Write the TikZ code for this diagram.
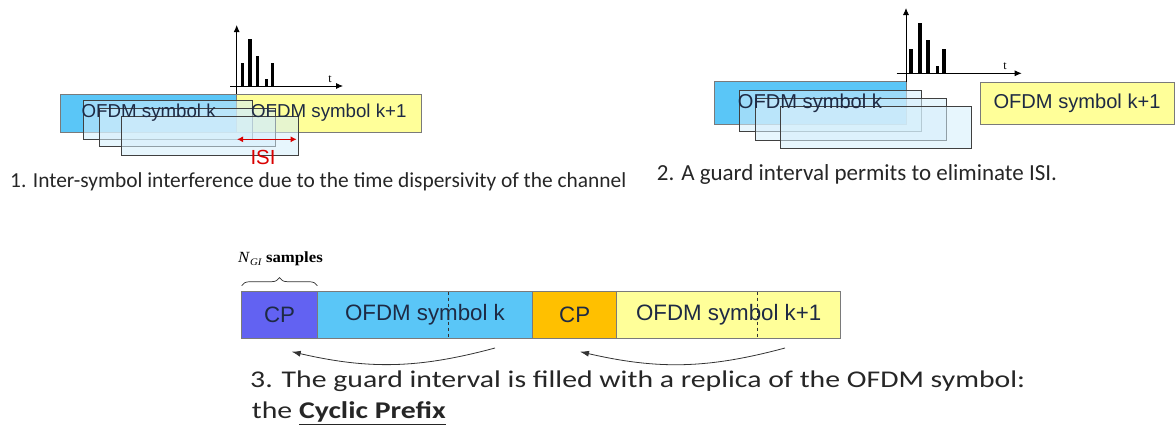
\documentclass[tikz,border=0pt]{standalone}
\usepackage{fontspec}
\setmainfont{Carlito}
\newfontfamily\arialf{Liberation Sans}
\newfontfamily\timesf{Liberation Serif}
\usepackage{tikz}
\usetikzlibrary{arrows.meta,positioning,calc,decorations.pathreplacing}
\definecolor{symblue}{HTML}{5AC6F7}
\definecolor{symyellow}{HTML}{FFFF99}
\definecolor{shadefill}{HTML}{D4EEFB}
\definecolor{cppurple}{HTML}{6262F2}
\definecolor{cporange}{HTML}{FFC000}
\definecolor{edgegray}{HTML}{7A7A7A}
\definecolor{symtext}{HTML}{1E2A44}
\tikzset{
 symbox/.style={draw=edgegray,line width=0.9pt,inner sep=0pt,outer sep=0pt,anchor=north west},
 bluesym/.style={symbox,fill=symblue},
 yellowsym/.style={symbox,fill=symyellow},
 symlabel/.style={inner sep=0pt,text=symtext,font=\arialf\fontsize{18.7}{20}\selectfont},
 echobox/.style={draw=black!75,line width=0.9pt,fill=shadefill,fill opacity=0.55,
   inner sep=0pt,outer sep=0pt,anchor=north west},
 barbox/.style={draw=edgegray,line width=0.9pt,inner sep=0pt,outer sep=0pt,minimum height=46.6pt,
   text=symtext,font=\arialf\fontsize{22.3}{24}\selectfont},
 caption/.style={anchor=west,inner sep=0pt,text=black!85,font=\fontsize{21.4}{24}\selectfont},
 axis/.style={-{Latex[length=7pt,width=6pt]},line width=0.8pt},
 tap/.style={fill=black,draw=none},
 replica/.style={-{Latex[length=9pt,width=6pt]},line width=0.8pt,draw=black!80},
 isi/.style={{Latex[length=6pt,width=6pt]}-{Latex[length=6pt,width=6pt]},line width=1.6pt,draw=red!85!black}
}
\begin{document}
\begin{tikzpicture}[x=1pt,y=-1pt]
 \useasboundingbox (0,0) rectangle (1175,434);
 % 1. inter-symbol interference
 \node[bluesym,minimum width=176pt,minimum height=38pt] (symA) at (60.7,94) {};
 \node[yellowsym,minimum width=184.3pt,minimum height=38pt] (nextA) at (236.7,94) {};
 \node[echobox,minimum width=169pt,minimum height=38.3pt] (echoA1) at (83,100.7) {};
 \node[echobox,minimum width=176pt,minimum height=38.7pt] (echoA2) at (99,108) {};
 \node[echobox,minimum width=176.3pt,minimum height=38.3pt] (echoA3) at (121.7,116.7) {};
 \node[symlabel] (symAtxt) at (symA.center) {OFDM symbol k};
 \node[symlabel] (nextAtxt) at (nextA.center) {OFDM symbol k+1};
 \coordinate (originA) at (236.7,86);
 \draw[line width=0.8pt] (symA.north east) -- (originA);
 \draw[axis] (originA) -- (236.7,25);
 \draw[axis] (230,86) -- (343,86);
 \node[font=\timesf\fontsize{12}{12}\selectfont,inner sep=0pt] (tA) at (330,79) {t};
 \foreach \px/\top in {242.7/63,250/39,257.7/56,266.7/79,272.7/63}
   \fill[tap] (\px-1.7,86) rectangle (\px+1.7,\top);
 \coordinate (isiL) at (237,139.3);
 \coordinate (isiR) at (296.7,139.3);
 \draw[isi] (isiL) -- (isiR);
 \node[text=red!85!black,font=\arialf\fontsize{20.4}{22}\selectfont,inner sep=0pt] (isiA) at (263,157) {ISI};
 \node[caption] (capA) at (10,182) {1. Inter-symbol interference due to the time dispersivity of the channel};

 % 2. guard interval
 \node[bluesym,minimum width=192pt,minimum height=42.3pt] (symB) at (714,81.7) {};
 \node[echobox,minimum width=182pt,minimum height=41.7pt] (echoB1) at (739,90) {};
 \node[echobox,minimum width=191pt,minimum height=42.7pt] (echoB2) at (755.7,98) {};
 \node[echobox,minimum width=191.7pt,minimum height=41.6pt] (echoB3) at (780,106.7) {};
 \node[symlabel,font=\arialf\fontsize{20.1}{22}\selectfont] (symBtxt) at (symB.center) {OFDM symbol k};
 \node[yellowsym,minimum width=194pt,minimum height=42pt,text=symtext,font=\arialf\fontsize{20.1}{22}\selectfont] (nextB) at (980,82) {OFDM symbol k+1};
 \coordinate (originB) at (906,73.3);
 \draw[line width=0.8pt] (symB.north east) -- (originB);
 \draw[axis] (originB) -- (906,8);
 \draw[axis] (896.7,73.3) -- (1021.7,73.3);
 \node[font=\timesf\fontsize{12}{12}\selectfont,inner sep=0pt] (tB) at (1005,66) {t};
 \foreach \px/\top in {911/49,920/23,928/40,937.7/65.7,944/49}
   \fill[tap] (\px-1.7,73.3) rectangle (\px+1.7,\top);
 \node[caption,font=\fontsize{23}{26}\selectfont] (capB) at (656.7,174) {2. A guard interval permits to eliminate ISI.};

 % 3. cyclic prefix
 \node[barbox,fill=cppurple,minimum width=75.6pt,anchor=north west] (cpk) at (241.7,291.7) {CP};
 \node[barbox,fill=symblue,minimum width=215.4pt,right=0pt of cpk] (symk) {OFDM symbol k};
 \node[barbox,fill=cporange,minimum width=84pt,right=0pt of symk] (cpn) {CP};
 \node[barbox,fill=symyellow,minimum width=224pt,right=0pt of cpn] (symn) {OFDM symbol k+1};
 \draw[dashed,line width=0.7pt,black!80] (448.3,291.7) -- (448.3,338.3);
 \draw[dashed,line width=0.7pt,black!80] (757.7,291.7) -- (757.7,338.3);
 \draw[decorate,decoration={brace,amplitude=8pt},line width=0.7pt,black!80]
   (cpk.north west) ++(0,-6) coordinate (braceL) -- (braceL -| cpk.north east) coordinate (braceR);
 \node[font=\timesf\fontsize{15.5}{18}\selectfont,inner sep=0pt] (ngi) at (280.5,259)
   {\scalebox{1.08}[1]{\textit{N}\raisebox{-0.35ex}{\fontsize{10}{10}\selectfont\textit{GI}} \textbf{samples}}};
 \coordinate (tailk) at (495,348);
 \coordinate (headk) at (291.7,351.7);
 \coordinate (tailn) at (785,348);
 \coordinate (headn) at (580,351.7);
 \draw[replica] (tailk) to[bend left=14] (headk);
 \draw[replica] (tailn) to[bend left=14] (headn);
 \node[caption,font=\fontsize{24}{28}\selectfont] (capC) at (250,381.7)
   {\scalebox{1.24}[1]{3. The guard interval is filled with a replica of the OFDM symbol:}};
 \node[caption,font=\fontsize{24}{28}\selectfont] (capD) at (251.7,413)
   {\scalebox{1.24}[1]{the \underline{\textbf{Cyclic Prefix}}}};
\end{tikzpicture}
\end{document}
